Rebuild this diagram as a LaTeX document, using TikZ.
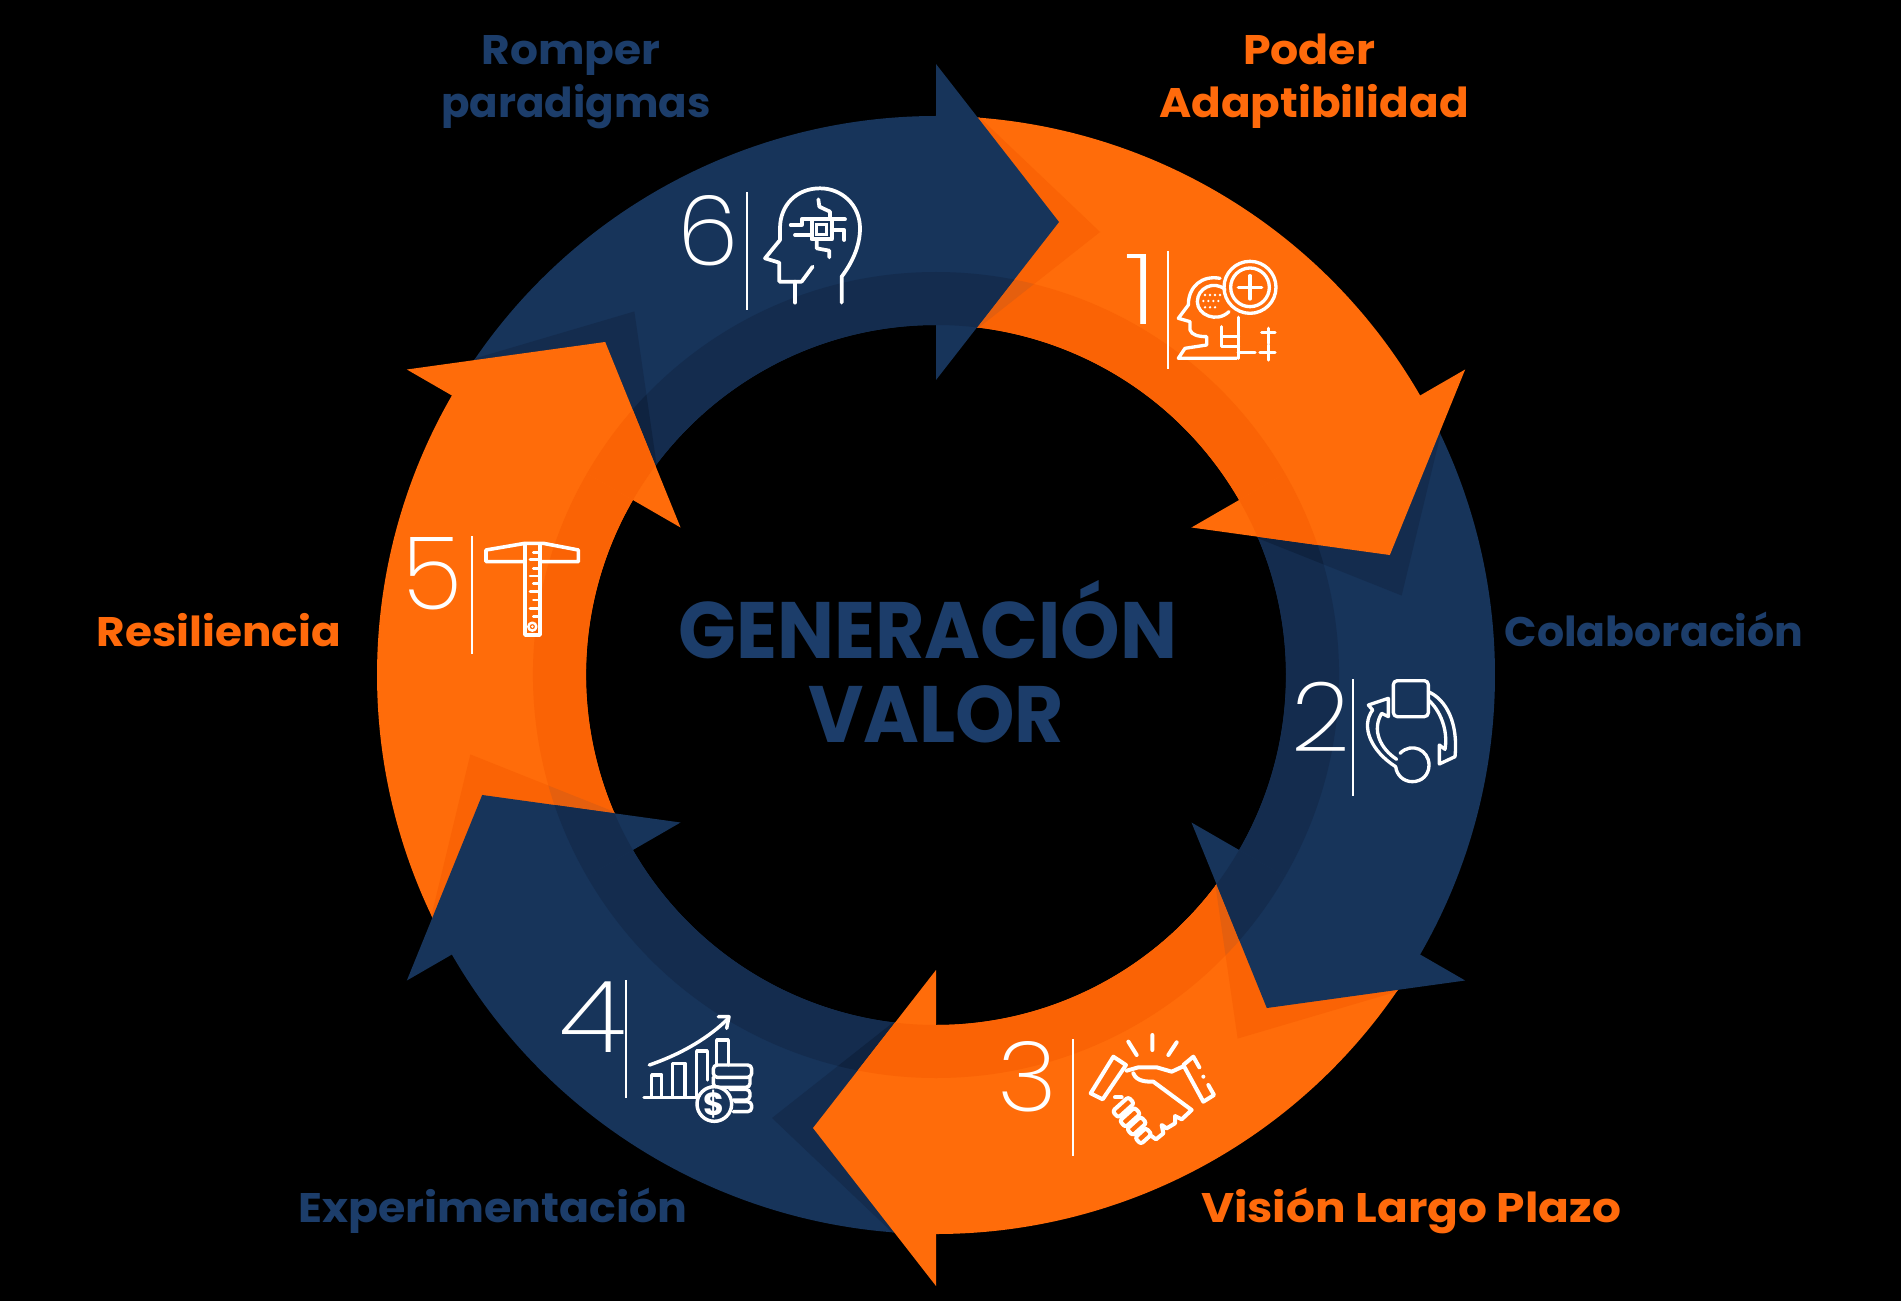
\documentclass[tikz,border=0pt]{standalone}
\usepackage{graphicx}
\usepackage{fontspec}
\setmainfont{Poppins}
\newfontfamily\labf{Poppins}[UprightFont=* Bold]
\newfontfamily\thinf{Poppins}[UprightFont=* ExtraLight]
\definecolor{nv}{HTML}{17345A}
\definecolor{nvS}{HTML}{142C4E}
\definecolor{nvI}{HTML}{0F2340}
\definecolor{org}{HTML}{FF6C0A}
\definecolor{orgS}{HTML}{FA6305}
\definecolor{orgI}{HTML}{E55F0E}
\definecolor{txN}{HTML}{1C3D6A}
\definecolor{txO}{HTML}{FF6A0B}
\newcommand\dg[3]{\resizebox{#1pt}{#2pt}{\thinf #3}}
\newcommand\lab[3]{\resizebox{#1pt}{\height}{\fontsize{#2}{#2}\labf #3}}
\def\sector{(89:559) arc[start angle=89,end angle=149.5,radius=559] -- (149.5:350) arc[start angle=149.5,end angle=89,radius=350] -- cycle}
\def\ringp{(0,0) circle[radius=403] (0,0) circle[radius=350]}
\def\chev{(41,560) -- (164,443) -- (41,346) -- cycle}
\def\headp{(0,611) -- (123,453) -- (0,295) -- cycle}
\tikzset{
  ic/.style={draw=white,line width=2.5pt,line cap=round,line join=round},
  divl/.style={draw=white,line width=2.1pt},
  lb/.style={inner sep=0,anchor=base},
  dgt/.style={inner sep=0,anchor=center,text=white}
}
\begin{document}
\begin{tikzpicture}[x=.75pt,y=-.75pt]
\fill[black] (0,0) rectangle (1901,1301);
\useasboundingbox (0,0) rectangle (1901,1301);
\begin{scope}[shift={(936,675)},y=.75pt]
\foreach \r/\c/\s/\i in {0/nv/nvS/nvI,-60/org/orgS/orgI,-120/nv/nvS/nvI,-180/org/orgS/orgI,-240/nv/nvS/nvI,-300/org/orgS/orgI}{
  \begin{scope}[rotate=\r]
    \fill[\c] \sector;
    \begin{scope}
      \clip \sector;
      \fill[\s,even odd rule] \ringp;
      \begin{scope}[rotate=60]
        \fill[\s] \chev;
        \clip \chev;
        \fill[\i,even odd rule] \ringp;
      \end{scope}
    \end{scope}
  \end{scope}
}
\foreach \r/\c/\s/\i in {0/nv/nvS/nvI,-60/org/orgS/orgI,-120/nv/nvS/nvI,-180/org/orgS/orgI,-240/nv/nvS/nvI,-300/org/orgS/orgI}{
  \begin{scope}[rotate=\r]
    \fill[\c] \headp;
    \begin{scope}
      \clip \headp;
      \fill[\s,even odd rule] \ringp;
    \end{scope}
  \end{scope}
}
\end{scope}

% centre title
\node[lb,text=txN] (title1) at (928,658) {\lab{374}{60}{GENERACIÓN}};
\node[lb,text=txN] (title2) at (936,742) {\lab{192}{60}{VALOR}};
% labels
\node[lb,text=txN] (l6a) at (571,65) {\lab{134}{31}{Romper}};
\node[lb,text=txN] (l6b) at (576,118) {\lab{202}{31}{paradigmas}};
\node[lb,text=txO] (l1a) at (1309,65) {\lab{99}{31}{Poder}};
\node[lb,text=txO] (l1b) at (1314,118) {\lab{232}{31}{Adaptibilidad}};
\node[lb,text=txN] (l2) at (1654,646) {\lab{224}{31}{Colaboración}};
\node[lb,text=txO] (l5) at (219,646) {\lab{183}{31}{Resiliencia}};
\node[lb,text=txN] (l4) at (493,1222) {\lab{292}{31}{Experimentación}};
\node[lb,text=txO] (l3) at (1411,1222) {\lab{315}{31}{Visión Largo Plazo}};
% digits
\node[dgt] (d6) at (708,231) {\dg{46}{52.5}{6}};
\node[dgt] (d1) at (1141,289) {\dg{25}{52.5}{1}};
\node[dgt] (d2) at (1321,717) {\dg{44}{52}{2}};
\node[dgt] (d3) at (1028,1077) {\dg{45}{52.5}{3}};
\node[dgt] (d4) at (593,1017) {\dg{50}{53}{4}};
\node[dgt] (d5) at (433,574) {\dg{45}{54}{5}};
% dividers
\draw[divl] (747,192) -- (747,310);
\draw[divl] (1168,251) -- (1168,369);
\draw[divl] (1353,679) -- (1353,796);
\draw[divl] (1073,1039) -- (1073,1156);
\draw[divl] (626,980) -- (626,1098);
\draw[divl] (472,536) -- (472,654);

% icon 6
\begin{scope}[shift={(660,160)},scale=1/3,ic/.append style={line width=2.8pt}]
\draw[ic] (545,428) -- (545,350) .. controls (575,310) and (600,260) .. (600,205) .. controls (600,135) and (545,85) .. (480,85) .. controls (410,85) and (360,135) .. (360,205) -- (360,240) -- (315,295) -- (358,308) -- (358,365) -- (425,365) -- (458,320);
\draw[ic] (405,365) -- (405,428);
\draw[ic] (455,178) rectangle (515,238);
\fill[white] (465,188) rectangle (505,228);
\fill[nv] (474,197) rectangle (496,219);
\draw[ic] (475,118) -- (478,140) -- (510,155) -- (510,178);
\draw[ic] (392,195) -- (425,195) -- (425,178) -- (555,178);
\draw[ic] (515,210) -- (553,210) -- (553,240);
\draw[ic] (405,225) -- (455,225);
\draw[ic] (470,238) -- (470,265) -- (508,272) -- (508,292);
\end{scope}

% icon 1
\begin{scope}[shift={(1110,230)},scale=1/3,ic/.append style={line width=2.5pt}]
\draw[ic] (420,172) circle[radius=78];
\draw[ic] (420,172) circle[radius=58];
\draw[ic] (385,172) -- (455,172) (420,137) -- (420,207);
\draw[ic] (330,145) .. controls (275,135) and (235,170) .. (235,225) -- (205,265) -- (240,275) -- (240,300) .. controls (245,315) and (265,320) .. (290,320) -- (290,345) -- (225,355) -- (205,385) -- (380,385);
\draw[ic] (345,178) .. controls (310,150) and (262,175) .. (262,215) .. controls (262,255) and (320,280) .. (357,245);
\foreach \x in {285,300,315,330}{\fill[white] (\x,195) circle[radius=4];}
\foreach \x in {280,295,310,325}{\fill[white] (\x,213) circle[radius=4];}
\foreach \x in {285,300,315}{\fill[white] (\x,232) circle[radius=4];}
\draw[ic] (335,290) -- (335,350) -- (385,350);
\draw[ic] (385,262) -- (385,385);
\draw[ic] (335,320) -- (385,320) (385,368) -- (435,368);
\draw[ic] (475,295) -- (475,340) (455,308) -- (495,308);
\draw[ic] (475,345) -- (475,390) (450,368) -- (495,368);
\end{scope}

% icon 2
\begin{scope}[shift={(1280,660)},scale=1/3,ic/.append style={line width=2.5pt}]
\draw[ic,rounded corners=3pt] (340,62) rectangle (445,170);
\draw[ic] (360,280) .. controls (395,245) and (447,270) .. (447,315) .. controls (447,345) and (425,365) .. (397,365) .. controls (370,365) and (350,345) .. (347,320);
\draw[ic] (445,95) .. controls (500,120) and (535,190) .. (525,290) -- (478,312) -- (478,255) -- (495,268) .. controls (505,210) and (480,150) .. (445,120);
\draw[ic] (347,320) .. controls (275,275) and (240,200) .. (278,150) -- (265,135) -- (325,115) -- (325,170) -- (305,160) .. controls (275,210) and (300,265) .. (350,298);
\end{scope}

% icon 3
\begin{scope}[shift={(990,1010)},scale=1/3,ic/.append style={line width=3pt}]
\draw[ic] (415,95) -- (440,135) (487,75) -- (487,120) (560,97) -- (535,135);
\draw[ic] (370,140) -- (408,165) -- (338,268) -- (302,250) -- cycle;
\draw[ic] (628,172) -- (610,140) -- (580,165) -- (640,275) -- (672,255) -- (655,225);
\fill[white] (640,200) circle[radius=6];
\draw[ic] (410,182) -- (445,172) -- (500,172) -- (545,185) -- (582,168);
\draw[ic] (430,190) .. controls (440,215) and (470,215) .. (490,215) -- (605,300) -- (575,328) -- (555,318) -- (555,340) -- (530,355) -- (515,345) -- (520,370) -- (498,388) -- (480,375);
\draw[ic] (375,262) -- (395,262);
\draw[ic,shift={(400,292)},rotate=42,rounded corners=2pt] (-32,-13) rectangle (32,13);
\draw[ic,shift={(420,322)},rotate=42,rounded corners=2pt] (-30,-13) rectangle (30,13);
\draw[ic,shift={(440,348)},rotate=42,rounded corners=2pt] (-28,-13) rectangle (28,13);
\draw[ic,shift={(460,378)},rotate=42,rounded corners=2pt] (-22,-13) rectangle (22,13);
\end{scope}

% icon 4
\begin{scope}[shift={(550,970)},scale=1/3,ic/.append style={line width=2.6pt}]
\draw[ic] (298,285) .. controls (400,250) and (480,200) .. (535,145);
\draw[ic] (505,140) -- (537,140) -- (530,175);
\draw[ic] (282,383) -- (440,383);
\draw[ic] (305,378) -- (305,315) -- (335,315) -- (335,378);
\draw[ic] (368,378) -- (368,280) -- (405,280) -- (405,378);
\draw[ic] (440,378) -- (440,243) -- (472,243) -- (472,330);
\draw[ic] (500,285) -- (500,210) -- (535,210) -- (535,285);
\draw[ic,rounded corners=3pt] (490,285) rectangle (605,322);
\draw[ic,rounded corners=3pt] (490,322) -- (490,352) -- (600,352) -- (600,322);
\draw[ic,rounded corners=3pt] (540,358) -- (600,358) -- (600,390) -- (550,390);
\draw[ic,rounded corners=3pt] (555,395) -- (605,395) -- (605,425) -- (550,425);
\fill[nv] (493,402) circle[radius=52];
\draw[ic] (493,402) circle[radius=52];
\node[inner sep=0,text=white] (dollar) at (493,402) {\fontsize{24}{24}\labf \$};
\end{scope}

% icon 5
\begin{scope}[shift={(390,520)},scale=1/3,ic/.append style={line width=2.7pt}]
\draw[ic] (288,125) -- (288,90) -- (405,70) -- (460,70) -- (565,90) -- (565,125) -- (450,125) (405,125) -- (288,125);
\draw[ic] (405,72) -- (405,345) -- (450,345) -- (450,72);
\foreach \y/\l in {98/430,118/420,145/430,168/420,190/430,215/420,240/430,265/420,290/430}{\draw[ic,line width=2pt] (450,\y) -- (\l,\y);}
\draw[ic,line width=1.8pt] (427,320) circle[radius=12];
\fill[white] (427,320) circle[radius=4];
\end{scope}
\end{tikzpicture}
\end{document}
